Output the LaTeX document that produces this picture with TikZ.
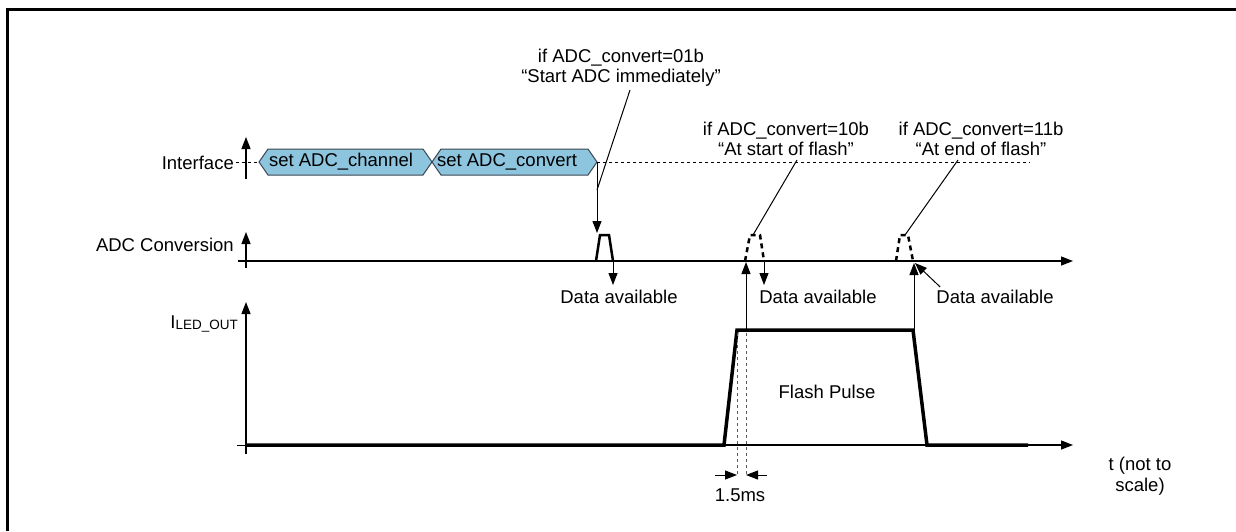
\documentclass[tikz,border=0pt]{standalone}
\usepackage{fontspec}
\setmainfont{Liberation Sans}
\usetikzlibrary{arrows.meta}
\definecolor{hexblue}{RGB}{141,196,222}
\definecolor{hexedge}{RGB}{60,70,80}
\begin{document}
\begin{tikzpicture}[x=1pt,y=-1pt,
  lbl/.style={font=\fontsize{18.5}{22}\selectfont, inner sep=0pt},
  tip/.style={-{Triangle[length=12pt,width=9pt]}},
  axis/.style={line width=1.3pt, tip},
  sig/.style={line width=3.5pt},
  dsig/.style={line width=2.5pt, dash pattern=on 5pt off 4pt},
  lead/.style={line width=1pt},
  hexbox/.style={fill=hexblue, draw=hexedge, line width=1pt}]
\useasboundingbox (0,0) rectangle (1236,531);
% frame (top and left edges only visible)
\draw[line width=3pt] (7,531) -- (7,9) -- (1236,9);

% ---------- Interface row ----------
\node[lbl, anchor=east] (lint) at (234,163) {Interface};
\coordinate (ia0) at (246,179);
\coordinate (ia1) at (246,137);
\draw[axis] (ia0) -- (ia1);
\coordinate (id0) at (236,162);
\coordinate (id1) at (259,162);
\coordinate (id2) at (597,162);
\coordinate (id3) at (1030,162);
\draw[dashed, line width=0.8pt] (id0) -- (id1);
\draw[dashed, line width=0.8pt] (id2) -- (id3);
\draw[hexbox] (259,162) -- (268,149) -- (423,149) -- (432,162) -- (423,175) -- (268,175) -- cycle;
\draw[hexbox] (432,162) -- (441,149) -- (588,149) -- (597,162) -- (588,175) -- (441,175) -- cycle;
\node[lbl] (h1) at (341,162) {set ADC\_channel};
\node[lbl] (h2) at (507,162) {set ADC\_convert};

% ---------- ADC row ----------
\node[lbl, anchor=east] (ladc) at (234,245) {ADC Conversion};
\coordinate (aa0) at (246,268);
\coordinate (aa1) at (246,232);
\draw[axis] (aa0) -- (aa1);
\coordinate (ab0) at (238,261);
\coordinate (ab1) at (1028,261);
\coordinate (ab2) at (1073,261);
\draw[line width=2.5pt] (ab0) -- (ab1);
\draw[axis] (ab1) -- (ab2);
% pulse 1
\draw[line width=2.5pt, line join=miter] (596,261) -- (600,235) -- (609,235) -- (613,261);
% dashed pulses 2 and 3
\draw[dsig] (720,261) -- (793,261);
\draw[dsig] (745,261) -- (750,235) -- (760,235) -- (764,261);
\draw[dsig] (870,261) -- (943,261);
\draw[dsig] (896,261) -- (900,235) -- (908,235) -- (913,261);

% data available
\node[lbl] (da1) at (619,297) {Data available};
\node[lbl] (da2) at (818,297) {Data available};
\node[lbl] (da3) at (995,297) {Data available};
\draw[lead, tip] (613,261) -- (613,285);
\draw[lead, tip] (764,261) -- (764,285);
\draw[lead, tip] (da3.north west) ++(4,-3) -- (915,263);

% ---------- LED row ----------
\node[lbl, anchor=east] (lled) at (238,324) {I\raisebox{-1.5pt}{\fontsize{13.5}{15}\selectfont LED\_OUT}};
\coordinate (la0) at (246,454);
\coordinate (la1) at (246,302);
\draw[axis] (la0) -- (la1);
\coordinate (lt0) at (237,445);
\draw[line width=1pt] (lt0) -- (246,445);
\draw[line width=1.3pt] (246,445) -- (1028,445);
\coordinate (lb1) at (1028,445);
\coordinate (lb2) at (1073,445);
\draw[axis] (lb1) -- (lb2);
\draw[sig, line join=miter] (246,445) -- (724,445) -- (737,330) -- (913,330) -- (927,445) -- (1028,445);
\node[lbl] (fp) at (827,392) {Flash Pulse};
\node[lbl, align=center, font=\fontsize{18.5}{21}\selectfont] (tlab) at (1140,476) {t (not to\\scale)};

% arrows from flash edges to ADC row
\draw[lead, tip] (746,330) -- (746,262);
\draw[lead, tip] (914,330) -- (914,263);

% 1.5 ms dimension
\draw[dashed, line width=0.8pt, gray!70!black] (737,333) -- (737,476);
\draw[dashed, line width=0.8pt, gray!70!black] (746,333) -- (746,476);
\coordinate (d1) at (715,475);
\coordinate (d2) at (767,475);
\draw[lead, tip] (d1) -- (737,475);
\draw[lead, tip] (d2) -- (746,475);
\node[lbl] (ms) at (740,495) {1.5ms};

% ---------- annotations ----------
\node[lbl, align=center, font=\fontsize{18.5}{20}\selectfont] (a01) at (621,68) {if ADC\_convert=01b\\“Start ADC immediately”};
\node[lbl, align=center, font=\fontsize{18.5}{20}\selectfont] (a10) at (786,139) {if ADC\_convert=10b\\“At start of flash”};
\node[lbl, align=center, font=\fontsize{18.5}{20}\selectfont] (a11) at (981,139) {if ADC\_convert=11b\\“At end of flash”};
\coordinate (s1) at (597,162);
\draw[lead, tip] (s1) -- (597,233);
\draw[lead] (630,90) -- (597,190);
\draw[lead] (797,160) -- (753,235);
\draw[lead] (958,160) -- (905,235);
\end{tikzpicture}
\end{document}
